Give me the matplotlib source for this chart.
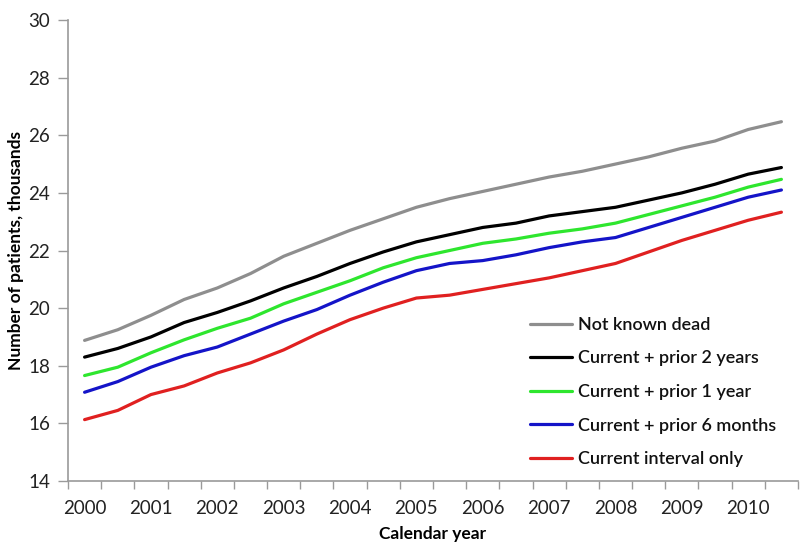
import matplotlib
matplotlib.use("Agg")
import matplotlib.pyplot as plt
import numpy as np

plt.rcParams['font.family'] = ['Lato', 'DejaVu Sans']

periods = ["2000", "2000b", "2001", "2001b", "2002", "2002b", "2003", "2003b",
           "2004", "2004b", "2005", "2005b", "2006", "2006b", "2007", "2007b",
           "2008", "2008b", "2009", "2009b", "2010", "2010b"]
year_labels = ["2000", "2001", "2002", "2003", "2004", "2005", "2006", "2007", "2008", "2009", "2010"]

not_known_dead = [18.88, 19.25, 19.75, 20.3, 20.7, 21.2, 21.8, 22.25, 22.7, 23.1, 23.5,
                  23.8, 24.05, 24.3, 24.55, 24.75, 25.0, 25.25, 25.55, 25.8, 26.2, 26.47]
prior_2_years = [18.3, 18.6, 19.0, 19.5, 19.85, 20.25, 20.7, 21.1, 21.55, 21.95, 22.3,
                 22.55, 22.8, 22.95, 23.2, 23.35, 23.5, 23.75, 24.0, 24.3, 24.65, 24.88]
prior_1_year = [17.66, 17.95, 18.45, 18.9, 19.3, 19.65, 20.15, 20.55, 20.95, 21.4, 21.75,
                22.0, 22.25, 22.4, 22.6, 22.75, 22.95, 23.25, 23.55, 23.85, 24.2, 24.47]
prior_6_months = [17.08, 17.45, 17.95, 18.35, 18.65, 19.1, 19.55, 19.95, 20.45, 20.9, 21.3,
                  21.55, 21.65, 21.85, 22.1, 22.3, 22.45, 22.8, 23.15, 23.5, 23.85, 24.1]
interval_only = [16.13, 16.45, 17.0, 17.3, 17.75, 18.1, 18.55, 19.1, 19.6, 20.0, 20.35,
                 20.45, 20.65, 20.85, 21.05, 21.3, 21.55, 21.95, 22.35, 22.7, 23.05, 23.33]

series = [
    ("Not known dead", not_known_dead, "#8e8e8e"),
    ("Current + prior 2 years", prior_2_years, "#000000"),
    ("Current + prior 1 year", prior_1_year, "#2ee62e"),
    ("Current + prior 6 months", prior_6_months, "#1414c8"),
    ("Current interval only", interval_only, "#e02020"),
]

fig = plt.figure(figsize=(8, 5.5), dpi=100)
ax = fig.add_axes([68/800, 1-481/550, 730/800, 461/550])

x = np.arange(len(periods))
for label, vals, col in series:
    ax.plot(x, vals, color=col, lw=2.3, label=label, solid_capstyle='round')

ax.set_xlim(-0.5, len(periods) - 0.5)
ax.set_ylim(14, 30)
ax.set_yticks(np.arange(14, 31, 2))
ax.set_xticks(x[::2])
ax.set_xticklabels(year_labels)
ax.set_xticks(np.arange(-0.5, len(periods), 1), minor=True)
ax.tick_params(axis='x', which='major', length=0, labelsize=13.5, pad=14, colors='#222222')
ax.tick_params(axis='x', which='minor', length=6, width=1, direction='out', color='#9a9a9a')
ax.tick_params(axis='y', length=7, width=1, direction='out', color='#9a9a9a', labelsize=13.5, pad=6, labelcolor='#222222')

for s in ['top', 'right']:
    ax.spines[s].set_visible(False)
for s in ['left', 'bottom']:
    ax.spines[s].set_color('#9a9a9a')
    ax.spines[s].set_linewidth(1.2)

ax.set_ylabel("Number of patients, thousands", fontsize=12.5, fontweight='bold', labelpad=3)
ax.set_xlabel("Calendar year", fontsize=12.5, fontweight='bold', labelpad=6)

leg = fig.legend(loc='center left', bbox_to_anchor=(530/800, 1-392/550), frameon=False,
                 fontsize=13, handlelength=2.35, handletextpad=0.3, labelspacing=0.97,
                 borderpad=0, borderaxespad=0)
for t in leg.get_texts():
    t.set_fontweight('semibold')
    t.set_color('#111111')

fig.savefig("out.png", dpi=100)
